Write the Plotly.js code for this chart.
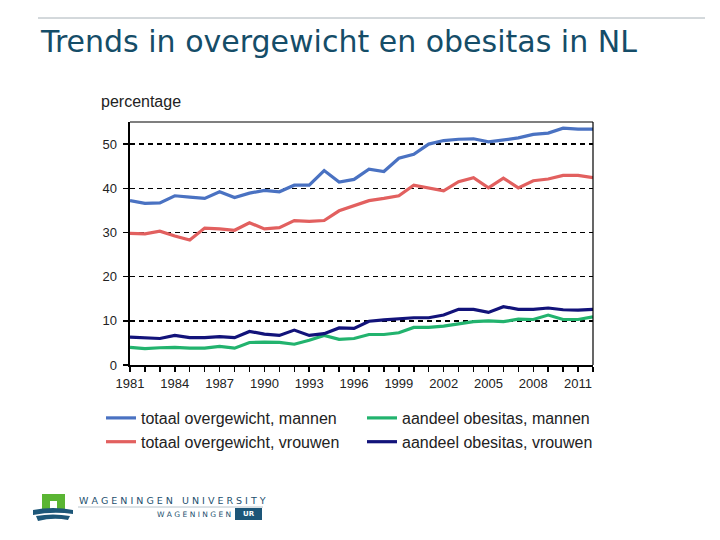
<!DOCTYPE html>
<html>
<head>
<meta charset="utf-8">
<script src="https://cdn.plot.ly/plotly-3.0.1.min.js"></script>
<style>html,body{margin:0;padding:0;background:#fff;}#chart{width:720px;height:540px;}</style>
</head>
<body>
<div id="chart"></div>
<script>
// ---- data ----
var years = [1981,1982,1983,1984,1985,1986,1987,1988,1989,1990,1991,1992,1993,1994,1995,1996,
             1997,1998,1999,2000,2001,2002,2003,2004,2005,2006,2007,2008,2009,2010,2011,2012];
var overgewichtMannen = [37.2,36.6,36.7,38.3,38.0,37.7,39.2,37.9,38.9,39.5,39.2,40.7,40.7,44.0,41.4,42.0,
                         44.3,43.8,46.8,47.7,50.0,50.8,51.1,51.2,50.5,51.0,51.4,52.2,52.5,53.6,53.4,53.4];
var overgewichtVrouwen = [29.8,29.7,30.3,29.2,28.3,31.0,30.8,30.5,32.2,30.8,31.1,32.7,32.5,32.7,34.9,36.0,
                          37.2,37.7,38.3,40.7,40.0,39.4,41.5,42.4,40.1,42.3,40.1,41.7,42.1,42.9,42.9,42.4];
var obesitasMannen = [4.0,3.7,3.9,4.0,3.8,3.8,4.2,3.8,5.1,5.2,5.1,4.7,5.6,6.7,5.8,6.0,
                      6.9,6.9,7.3,8.5,8.5,8.8,9.3,9.8,10.0,9.8,10.4,10.3,11.3,10.3,10.3,10.9];
var obesitasVrouwen = [6.3,6.1,6.0,6.7,6.2,6.2,6.4,6.2,7.6,7.0,6.7,7.9,6.7,7.1,8.4,8.3,
                       9.9,10.2,10.4,10.7,10.7,11.3,12.6,12.6,11.9,13.2,12.6,12.6,12.9,12.5,12.4,12.6];
var seriesNames = ["totaal overgewicht, mannen","aandeel obesitas, mannen",
                   "totaal overgewicht, vrouwen","aandeel obesitas, vrouwen"];
var xTickVals = [1981,1984,1987,1990,1993,1996,1999,2002,2005,2008,2011];
var yTickVals = [0,10,20,30,40,50];

// ---- layout helpers (pixel -> paper) ----
var L = 130, R = 593, T = 122, B = 365;
function px(x){ return (x - L) / (R - L); }
function py(y){ return (B - y) / (B - T); }

var lineW = 3.2;
var traces = [
  {x: years, y: overgewichtMannen, name: seriesNames[0], line: {color: '#4a72c2', width: lineW}},
  {x: years, y: obesitasMannen,    name: seriesNames[1], line: {color: '#22b36e', width: lineW}},
  {x: years, y: overgewichtVrouwen,name: seriesNames[2], line: {color: '#e2605f', width: lineW}},
  {x: years, y: obesitasVrouwen,   name: seriesNames[3], line: {color: '#12137a', width: lineW}}
].map(function(t){ t.type='scatter'; t.mode='lines'; t.hoverinfo='skip'; return t; });

var tickFont = {family: 'Arial, "Liberation Sans", sans-serif', size: 13, color: '#222'};

var shapes = [
  // top rule
  {type:'line', xref:'paper', yref:'paper', x0:px(38), x1:px(705), y0:py(18), y1:py(18),
   line:{color:'#a8b2b8', width:1}},
  // plot frame (top and right thin)
  {type:'line', xref:'paper', yref:'paper', x0:0, x1:1, y0:1, y1:1, line:{color:'#000', width:1.2}},
  {type:'line', xref:'paper', yref:'paper', x0:1, x1:1, y0:0, y1:1, line:{color:'#000', width:1.2}},
  // logo: green gate
  {type:'path', xref:'paper', yref:'paper',
   path: 'M '+px(42)+','+py(512)+' L '+px(42)+','+py(494)+' L '+px(65)+','+py(494)+' L '+px(65)+','+py(512)+
         ' L '+px(57)+','+py(512)+' L '+px(57)+','+py(501)+' L '+px(50)+','+py(501)+' L '+px(50)+','+py(512)+' Z',
   fillcolor:'#5ab533', line:{width:0}},
  // logo: blue waves
  {type:'path', xref:'paper', yref:'paper',
   path: 'M '+px(33)+','+py(510)+' Q '+px(53)+','+py(506)+' '+px(73)+','+py(510)+
         ' L '+px(73)+','+py(514)+' Q '+px(53)+','+py(511)+' '+px(33)+','+py(515)+' Z',
   fillcolor:'#1d5678', line:{width:0}},
  {type:'path', xref:'paper', yref:'paper',
   path: 'M '+px(36)+','+py(516)+' Q '+px(53)+','+py(513)+' '+px(70)+','+py(516)+
         ' L '+px(68)+','+py(520)+' Q '+px(53)+','+py(517)+' '+px(38)+','+py(521)+' Z',
   fillcolor:'#1d5678', line:{width:0}},
  // logo: rule under university name
  {type:'line', xref:'paper', yref:'paper', x0:px(78), x1:px(263), y0:py(507), y1:py(507),
   line:{color:'#b8c4cc', width:1}},
  // logo: UR box
  {type:'rect', xref:'paper', yref:'paper', x0:px(235), x1:px(262), y0:py(520), y1:py(508),
   fillcolor:'#1d5678', line:{width:0}}
];

var annotations = [
  {text:'Trends in overgewicht en obesitas in NL', xref:'paper', yref:'paper', x:px(38), y:py(41),
   xanchor:'left', yanchor:'middle', showarrow:false,
   font:{family:'"DejaVu Sans", Verdana, sans-serif', size:30, color:'#154d68'}},
  {text:'percentage', xref:'paper', yref:'paper', x:px(99), y:py(102),
   xanchor:'left', yanchor:'middle', showarrow:false,
   font:{family:'Arial, "Liberation Sans", sans-serif', size:16, color:'#222'}},
  {text:'W A G E N I N G E N   U N I V E R S I T Y', xref:'paper', yref:'paper', x:px(77), y:py(500),
   xanchor:'left', yanchor:'middle', showarrow:false,
   font:{family:'"DejaVu Sans", sans-serif', size:9.5, color:'#1d4f6e'}},
  {text:'W A G E N I N G E N', xref:'paper', yref:'paper', x:px(233), y:py(514),
   xanchor:'right', yanchor:'middle', showarrow:false,
   font:{family:'"DejaVu Sans", sans-serif', size:7.5, color:'#1d4f6e'}},
  {text:'<b>UR</b>', xref:'paper', yref:'paper', x:px(248.5), y:py(514),
   xanchor:'center', yanchor:'middle', showarrow:false,
   font:{family:'"DejaVu Sans", sans-serif', size:7, color:'#fff'}}
];

var layout = {
  width: 720, height: 540,
  margin: {l: L, r: 720 - R, t: T, b: 540 - B, pad: 0},
  paper_bgcolor: '#fff', plot_bgcolor: '#fff',
  showlegend: true,
  legend: {orientation: 'h', x: px(101), y: py(401), xanchor: 'left', yanchor: 'top',
           entrywidth: 216, tracegroupgap: 0, itemwidth: 30,
           font: {family: 'Arial, "Liberation Sans", sans-serif', size: 16, color: '#222'},
           bgcolor: 'rgba(0,0,0,0)'},
  xaxis: {range: [1981, 2012], tickmode: 'array', tickvals: xTickVals, ticktext: xTickVals.map(String),
          showgrid: false, zeroline: false, showline: true, linecolor: '#000', linewidth: 2,
          ticks: 'outside', ticklen: 5, tickwidth: 1.5, tickcolor: '#000',
          minor: {ticks: 'outside', dtick: 1, tick0: 1981, ticklen: 5, tickwidth: 1.5, tickcolor: '#000', showgrid: false},
          tickfont: tickFont, fixedrange: true},
  yaxis: {range: [0, 55], tickmode: 'array', tickvals: yTickVals,
          showgrid: true, gridcolor: '#000', griddash: '5px,4px', gridwidth: 1.4,
          zeroline: false, showline: true, linecolor: '#000', linewidth: 2.5,
          ticks: 'outside', ticklen: 5, tickwidth: 1.5, tickcolor: '#000', ticklabelstandoff: 3,
          tickfont: tickFont, fixedrange: true},
  shapes: shapes,
  annotations: annotations
};

Plotly.newPlot('chart', traces, layout, {staticPlot: true, displayModeBar: false});
</script>
</body>
</html>
